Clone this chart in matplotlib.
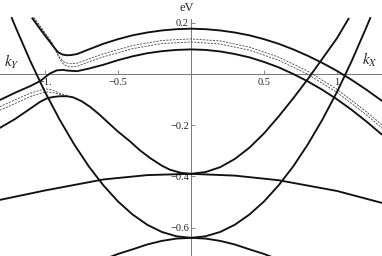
import numpy as np
import matplotlib
matplotlib.use("Agg")
import matplotlib.pyplot as plt

plt.rcParams['mathtext.fontset'] = 'stix'
plt.rcParams['font.family'] = ['Liberation Serif', 'DejaVu Serif']

# band energies (eV), k in units of the zone edge

# upper hole-like band (solid), bends up at the anticrossing on the k_Y side
u1_k = [-1.09, -1.034, -0.966, -0.932, -0.91, -0.88, -0.85, -0.82, -0.78, -0.7, -0.6, -0.5, -0.4, -0.3,
        -0.2, -0.1, 0.0, 0.1, 0.2, 0.3, 0.4, 0.5, 0.6, 0.7, 0.8, 0.9, 1.0, 1.1, 1.2, 1.31]
u1_e = [0.22, 0.176, 0.125, 0.100, 0.085, 0.076, 0.073, 0.074, 0.078, 0.096, 0.118, 0.136, 0.151, 0.162,
        0.170, 0.175, 0.177, 0.175, 0.170, 0.162, 0.151, 0.136, 0.118, 0.096, 0.071, 0.043, 0.012, -0.023, -0.061, -0.106]

# lower hole-like band (solid)
u2_k = [-1.31, -1.2, -1.1, -1.034, -0.966, -0.92, -0.88, -0.84, -0.78, -0.7, -0.6, -0.5, -0.4, -0.3, -0.2,
        -0.1, 0.0, 0.1, 0.2, 0.3, 0.4, 0.5, 0.6, 0.7, 0.8, 0.9, 1.0, 1.1, 1.2, 1.31]
u2_e = [-0.102, -0.072, -0.047, -0.028, 0.002, 0.014, 0.016, 0.013, 0.011, 0.021, 0.036, 0.054, 0.069, 0.081, 0.089,
        0.094, 0.096, 0.094, 0.088, 0.078, 0.065, 0.047, 0.026, 0.0, -0.029, -0.062, -0.099, -0.140, -0.185, -0.238]

# electron-like band with minimum near -0.39 at Gamma, hybridised on the k_Y side
b3_k = [-1.31, -1.205, -1.1, -1.034, -0.986, -0.945, -0.9, -0.849, -0.808, -0.75, -0.692, -0.63, -0.575, -0.5,
        -0.418, -0.35, -0.281, -0.2, -0.144, -0.07, 0.0, 0.1, 0.2, 0.3, 0.4, 0.5, 0.6, 0.7, 0.8, 0.9, 1.0, 1.082]
b3_e = [-0.211, -0.176, -0.135, -0.109, -0.095, -0.090, -0.087, -0.087, -0.091, -0.106, -0.128, -0.157, -0.186, -0.225,
        -0.263, -0.298, -0.328, -0.358, -0.374, -0.386, -0.390, -0.383, -0.364, -0.332, -0.288, -0.232, -0.166, -0.095,
        -0.020, 0.060, 0.140, 0.219]

# steep electron-like band, minimum -0.64 at Gamma
l1_k = [-1.23, -1.2, -1.1, -1.0, -0.9, -0.8, -0.7, -0.6, -0.5, -0.4, -0.3, -0.2, -0.1, 0.0,
        0.1, 0.2, 0.3, 0.4, 0.5, 0.6, 0.7, 0.8, 0.9, 1.0, 1.1, 1.2, 1.23]
l1_e = [0.222, 0.181, 0.050, -0.070, -0.178, -0.275, -0.361, -0.435, -0.498, -0.549, -0.589, -0.617, -0.634, -0.640,
        -0.634, -0.617, -0.589, -0.549, -0.498, -0.435, -0.361, -0.275, -0.178, -0.070, 0.050, 0.181, 0.222]

# flat band through -0.39
fl_k = [-1.31, -1.0, -0.6, -0.3, 0.0, 0.3, 0.6, 1.0, 1.31]
fl_e = [-0.492, -0.455, -0.412, -0.395, -0.390, -0.397, -0.415, -0.457, -0.504]

# hole-like band with maximum -0.64 at Gamma
bt_k = [-0.6, -0.5, -0.4, -0.3, -0.2, -0.1, 0.0, 0.1, 0.2, 0.3, 0.4, 0.5, 0.6]
bt_e = [-0.725, -0.703, -0.685, -0.666, -0.652, -0.643, -0.640, -0.643, -0.652, -0.666, -0.685, -0.703, -0.725]

# dashed bands between the two hole-like bands
d1_k = [-1.08, -1.024, -0.956, -0.93, -0.9, -0.87, -0.83, -0.78, -0.7, -0.6, -0.4, -0.2, 0.0, 0.2, 0.4, 0.6, 0.8, 1.0, 1.2, 1.31]
d1_e = [0.22, 0.176, 0.125, 0.095, 0.065, 0.047, 0.040, 0.042, 0.059, 0.079, 0.111, 0.131, 0.137, 0.129, 0.105, 0.066, 0.011, -0.060, -0.147, -0.200]
d2_k = [-1.075, -1.018, -0.95, -0.925, -0.895, -0.87, -0.83, -0.78, -0.7, -0.6, -0.4, -0.2, 0.0, 0.2, 0.4, 0.6, 0.8, 1.0, 1.2, 1.31]
d2_e = [0.22, 0.176, 0.120, 0.090, 0.055, 0.036, 0.027, 0.030, 0.047, 0.067, 0.099, 0.119, 0.125, 0.117, 0.093, 0.054, -0.001, -0.072, -0.159, -0.212]
# dashed bands on the k_Y side below the anticrossing
d3_k = [-1.31, -1.2, -1.1, -1.0, -0.95, -0.9, -0.85]
d3_e = [-0.128, -0.100, -0.075, -0.058, -0.062, -0.075, -0.084]
d4_k = [-1.31, -1.2, -1.1, -1.0, -0.95, -0.9, -0.85]
d4_e = [-0.142, -0.114, -0.088, -0.070, -0.072, -0.080, -0.087]

xticks = [-1, -0.5, 0.5, 1]
xtick_labels = ['\u22121.', '\u22120.5', '0.5', '1']
yticks = [0.2, -0.2, -0.4, -0.6]
ytick_labels = ['0.2', '\u22120.2', '\u22120.4', '\u22120.6']

fig = plt.figure(figsize=(3.82, 2.56), dpi=100)
ax = fig.add_axes([0, 0, 1, 1])
ax.set_xlim(-1.308, 1.308)
ax.set_ylim(-0.711, 0.289)

solid = dict(color='#111111', lw=1.35, solid_capstyle='butt', solid_joinstyle='round', zorder=3)
dash = dict(color='#444444', lw=0.6, dashes=(2.5, 1.5), zorder=2)

for k, e in [(d1_k, d1_e), (d2_k, d2_e), (d3_k, d3_e), (d4_k, d4_e)]:
    ax.plot(k, e, **dash)
for k, e in [(u1_k, u1_e), (u2_k, u2_e), (b3_k, b3_e), (l1_k, l1_e), (fl_k, fl_e), (bt_k, bt_e)]:
    ax.plot(k, e, **solid)

# axes through the origin, Mathematica style
for s in ['top', 'right']:
    ax.spines[s].set_visible(False)
ax.spines['left'].set_position(('data', 0))
ax.spines['bottom'].set_position(('data', 0))
ax.spines['left'].set_bounds(-0.711, 0.215)
for s in ['left', 'bottom']:
    ax.spines[s].set_color('#777777')
    ax.spines[s].set_linewidth(0.7)
    ax.spines[s].set_zorder(1)

ax.set_xticks(xticks)
ax.set_xticklabels(xtick_labels)
ax.set_yticks(yticks)
ax.set_yticklabels(ytick_labels)
ax.tick_params(axis='both', which='major', direction='in', length=3, width=0.6, color='#777777',
               labelsize=7.5, labelcolor='#222222', pad=1.5)
ax.tick_params(axis='x', which='major', pad=3)

ax.text(-0.03, 0.258, 'eV', fontsize=9, ha='center', va='center', color='#222222')
ax.text(-1.226, 0.047, '$k_Y$', fontsize=11, ha='center', va='center', color='#222222')
ax.text(1.226, 0.055, '$k_X$', fontsize=11, ha='center', va='center', color='#222222')

fig.savefig('out.png', dpi=100, facecolor='white')
